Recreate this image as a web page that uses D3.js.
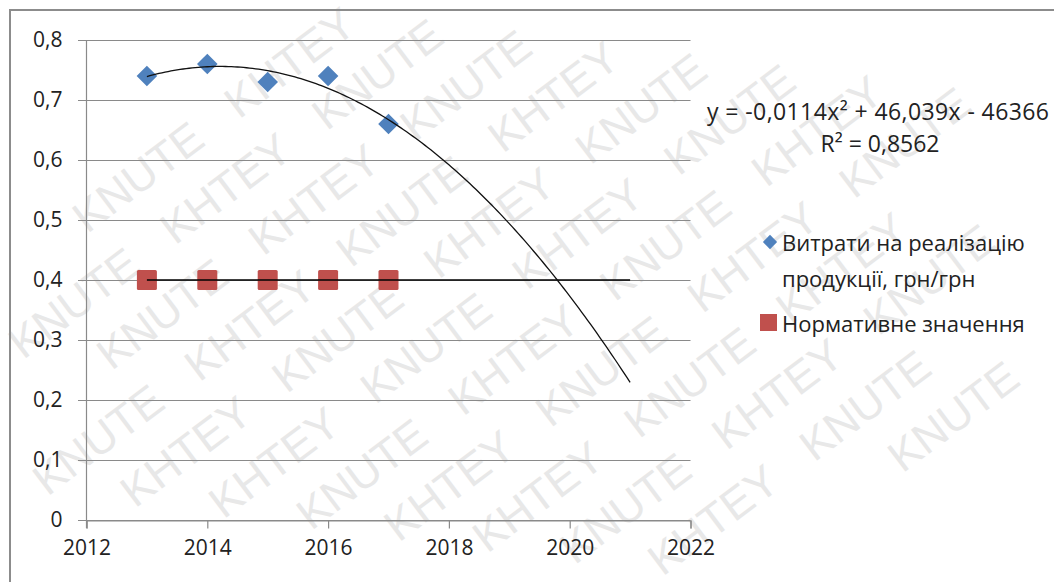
<!DOCTYPE html>
<html><head><meta charset="utf-8">
<script src="https://cdn.jsdelivr.net/npm/d3@7"></script>
<style>
html,body{margin:0;padding:0;background:#fff;}
svg{display:block;font-family:"Open Sans",sans-serif;}
</style></head>
<body>
<svg id="c" width="1054" height="582"></svg>
<script>
const years = [2013, 2014, 2015, 2016, 2017];
const costs = [0.74, 0.76, 0.73, 0.74, 0.66];
const norm = [0.4, 0.4, 0.4, 0.4, 0.4];
const xTicks = [2012, 2014, 2016, 2018, 2020, 2022];
const yTicks = [0, 0.1, 0.2, 0.3, 0.4, 0.5, 0.6, 0.7, 0.8];
const seriesNames = ["Витрати на реалізацію", "продукції, грн/грн", "Нормативне значення"];
const eqText = "y = -0,0114x² + 46,039x - 46366";
const r2Text = "R² = 0,8562";
const trendEnd = 2021;
const watermarkWords = ["KHTEY", "KNUTE"];

const svg = d3.select("#c");
const W = 1054, H = 582;
const blue = "#4F81BD", red = "#C0504D";

// watermark: individual words along diagonal rows, keep only those fully inside
const angDeg = -37, ang = angDeg * Math.PI / 180;
const cx = W/2, cy = H/2;
const fs = 44, wordW = 150, wordH = 32, stepX = 190, rowH = 62;
const wm = svg.append("g");
for (let r = -10; r <= 10; r++) {
  for (let k = -10; k <= 10; k++) {
    const u = k * stepX + ((r % 3) + 3) % 3 * 63;
    const v = r * rowH;
    const corners = [[0,0],[wordW,0],[0,-wordH],[wordW,-wordH]].map(([a,b]) => {
      const uu = u + a, vv = v + b;
      return [cx + uu*Math.cos(ang) - vv*Math.sin(ang), cy + uu*Math.sin(ang) + vv*Math.cos(ang)];
    });
    if (corners.every(([px,py]) => px > 2 && px < W-2 && py > 2 && py < H-2)) {
      const px = cx + u*Math.cos(ang) - v*Math.sin(ang);
      const py = cy + u*Math.sin(ang) + v*Math.cos(ang);
      wm.append("text").attr("transform", `translate(${px},${py}) rotate(${angDeg})`)
        .attr("font-size", fs).attr("fill", "#e8e8e8")
        .attr("font-family", "Liberation Sans, sans-serif")
        .attr("textLength", wordW).attr("lengthAdjust", "spacingAndGlyphs")
        .text(watermarkWords[((k + r) % 2 + 2) % 2]);
    }
  }
}

// outer frame
svg.append("rect").attr("x", 10).attr("y", 10).attr("width", W).attr("height", H)
  .attr("fill", "none").attr("stroke", "#8c8c8c").attr("stroke-width", 2);

const x = d3.scaleLinear().domain([2012, 2022]).range([86.5, 690.5]);
const y = d3.scaleLinear().domain([0, 0.8]).range([520, 40]);

// gridlines
svg.append("g").selectAll("line").data(yTicks).join("line")
  .attr("x1", 78).attr("x2", x(2022))
  .attr("y1", d => y(d) + 0.5).attr("y2", d => y(d) + 0.5)
  .attr("stroke", "#8a8a8a").attr("stroke-width", 1.2);

// y axis
const ya = svg.append("g").attr("transform", `translate(${x(2012)},0)`)
  .call(d3.axisLeft(y).tickValues(yTicks).tickSize(0).tickPadding(24)
    .tickFormat(d => d === 0 ? "0" : String(d).replace(".", ",")));
ya.select(".domain").remove();
ya.selectAll("text").attr("font-size", 21).attr("fill", "#222").attr("font-family", "Open Sans, sans-serif");
svg.append("line").attr("x1", x(2012)).attr("x2", x(2012)).attr("y1", y(0.8)).attr("y2", y(0) + 8)
  .attr("stroke", "#8a8a8a").attr("stroke-width", 1.2);

// x axis
const xa = svg.append("g").attr("transform", `translate(0,${y(0) + 0.5})`)
  .call(d3.axisBottom(x).tickValues(xTicks).tickSize(8).tickPadding(12).tickFormat(d3.format("d")));
xa.select(".domain").attr("stroke", "#8a8a8a").attr("stroke-width", 1.2);
xa.selectAll(".tick line").attr("stroke", "#8a8a8a").attr("stroke-width", 1.2);
xa.selectAll("text").attr("font-size", 21).attr("fill", "#222").attr("font-family", "Open Sans, sans-serif");

// polynomial (order 2) trendline fitted from data
function polyfit2(xs, ys) {
  const m = d3.mean(xs);
  const t = xs.map(v => v - m);
  const n = xs.length;
  const s1 = d3.sum(t), s2 = d3.sum(t, v => v*v), s3 = d3.sum(t, v => v**3), s4 = d3.sum(t, v => v**4);
  const sy = d3.sum(ys), sty = d3.sum(t.map((v,i)=>v*ys[i])), st2y = d3.sum(t.map((v,i)=>v*v*ys[i]));
  const A = [[s4,s3,s2,st2y],[s3,s2,s1,sty],[s2,s1,n,sy]];
  for (let i=0;i<3;i++){ for (let k=i+1;k<3;k++){ const f=A[k][i]/A[i][i]; for(let j=i;j<4;j++) A[k][j]-=f*A[i][j]; } }
  const sol=[0,0,0];
  for (let i=2;i>=0;i--){ let s=A[i][3]; for(let j=i+1;j<3;j++) s-=A[i][j]*sol[j]; sol[i]=s/A[i][i]; }
  return v => { const tt = v - m; return sol[0]*tt*tt + sol[1]*tt + sol[2]; };
}
function linfit(xs, ys) {
  const mx = d3.mean(xs), my = d3.mean(ys);
  const b = d3.sum(xs.map((v,i)=>(v-mx)*(ys[i]-my))) / d3.sum(xs, v => (v-mx)**2);
  return v => my + b*(v-mx);
}
const pf = polyfit2(years, costs);
const lf = linfit(years, norm);
const samples = d3.range(years[0], trendEnd + 0.0001, 0.05);
const line = d3.line().x(d => x(d[0])).y(d => y(d[1]));

// markers
svg.append("g").selectAll("rect").data(years).join("rect")
  .attr("x", d => x(d) - 10).attr("y", (d,i) => y(norm[i]) - 10)
  .attr("width", 20).attr("height", 20).attr("rx", 1.5).attr("fill", red);

svg.append("path").datum(samples.map(v => [v, lf(v)])).attr("d", line)
  .attr("fill", "none").attr("stroke", "#000").attr("stroke-width", 1.6);

svg.append("g").selectAll("path").data(years).join("path")
  .attr("d", d3.symbol(d3.symbolDiamond2, 270))
  .attr("transform", (d,i) => `translate(${x(d)},${y(costs[i])})`)
  .attr("fill", blue);

svg.append("path").datum(samples.map(v => [v, pf(v)])).attr("d", line)
  .attr("fill", "none").attr("stroke", "#111").attr("stroke-width", 1.3);

// equation
const eq = svg.append("g").attr("font-size", 23).attr("fill", "#222").attr("text-anchor", "middle");
eq.append("text").attr("x", 878).attr("y", 120).attr("textLength", 342).attr("lengthAdjust", "spacing").text(eqText);
eq.append("text").attr("x", 880).attr("y", 152).text(r2Text);

// legend
const lg = svg.append("g").attr("font-size", 22).attr("fill", "#222");
lg.append("path").attr("d", d3.symbol(d3.symbolDiamond2, 130)).attr("transform", "translate(770,242)").attr("fill", blue);
lg.append("text").attr("x", 782).attr("y", 251).text(seriesNames[0]);
lg.append("text").attr("x", 782).attr("y", 287).text(seriesNames[1]);
lg.append("rect").attr("x", 760).attr("y", 314).attr("width", 17).attr("height", 17).attr("fill", red);
lg.append("text").attr("x", 782).attr("y", 332).text(seriesNames[2]);
</script>
</body></html>
